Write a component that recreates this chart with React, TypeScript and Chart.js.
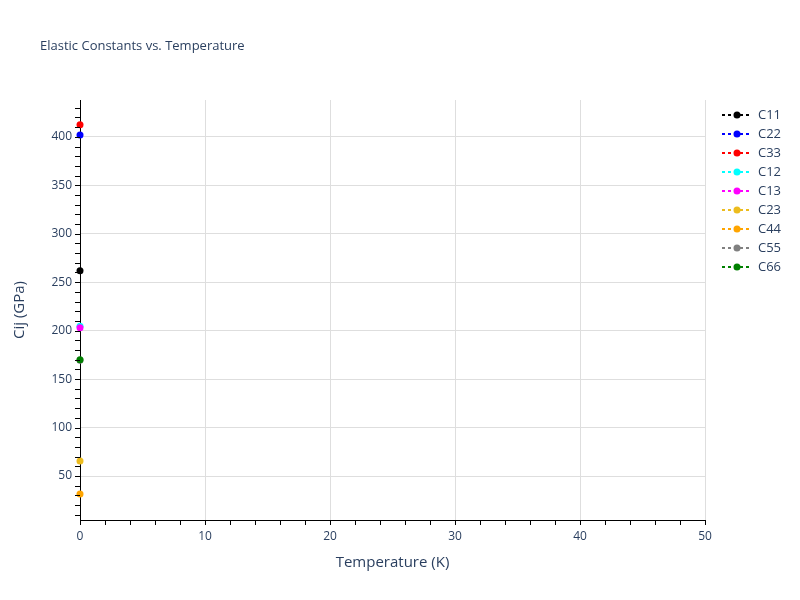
import { useEffect, useRef } from "react";
import Chart from "chart.js/auto";

const seriesNames = ["C11", "C22", "C33", "C12", "C13", "C23", "C44", "C55", "C66"];
const seriesColors = ["black", "blue", "red", "cyan", "magenta", "#ecbc1e", "orange", "gray", "green"];
const temperatures = [0];
const c11 = [261.7];
const c22 = [402.0];
const c33 = [412.4];
const c12 = [204.5];
const c13 = [203.0];
const c23 = [65.5];
const c44 = [31.4];
const c55 = [169.5];
const c66 = [170.0];
const seriesValues = [c11, c22, c33, c12, c13, c23, c44, c55, c66];
const xTicks = [0, 10, 20, 30, 40, 50];
const yTicks = [50, 100, 150, 200, 250, 300, 350, 400];

const FONT = "'Open Sans', verdana, arial, sans-serif";
const TEXT = "#2a3f5f";

const decorPlugin = {
  id: "decor",
  afterDraw(chart: any) {
    const { ctx, chartArea, scales } = chart;
    const xs = scales.x;
    const ys = scales.y;
    ctx.save();
    // tick marks, major + minor, outside
    ctx.strokeStyle = "#000";
    ctx.lineWidth = 1;
    for (let v = 0; v <= 50; v += 2) {
      const px = Math.round(xs.getPixelForValue(v)) + 0.5;
      ctx.beginPath();
      ctx.moveTo(px, chartArea.bottom);
      ctx.lineTo(px, chartArea.bottom + 5);
      ctx.stroke();
    }
    for (let v = 10; v <= 430; v += 10) {
      const py = Math.round(ys.getPixelForValue(v)) + 0.5;
      ctx.beginPath();
      ctx.moveTo(chartArea.left, py);
      ctx.lineTo(chartArea.left - 5, py);
      ctx.stroke();
    }
    // titles
    ctx.fillStyle = TEXT;
    ctx.font = `13px ${FONT}`;
    ctx.textAlign = "left";
    ctx.textBaseline = "middle";
    ctx.fillText("Elastic Constants vs. Temperature", 40, 46);
    ctx.font = `15px ${FONT}`;
    ctx.textAlign = "center";
    ctx.fillText("Temperature (K)", (chartArea.left + chartArea.right) / 2, 563);
    ctx.translate(20, (chartArea.top + chartArea.bottom) / 2);
    ctx.rotate(-Math.PI / 2);
    ctx.fillText("Cij (GPa)", 0, 0);
    ctx.restore();
    // legend
    ctx.save();
    seriesNames.forEach((name, i) => {
      const y = 115 + i * 19;
      ctx.strokeStyle = seriesColors[i];
      ctx.lineWidth = 2;
      ctx.setLineDash([3, 3]);
      ctx.beginPath();
      ctx.moveTo(722, y);
      ctx.lineTo(752, y);
      ctx.stroke();
      ctx.setLineDash([]);
      ctx.fillStyle = seriesColors[i];
      ctx.beginPath();
      ctx.arc(737, y, 3.5, 0, Math.PI * 2);
      ctx.fill();
      ctx.fillStyle = TEXT;
      ctx.font = `13px ${FONT}`;
      ctx.textAlign = "left";
      ctx.textBaseline = "middle";
      ctx.fillText(name, 758, y);
    });
    ctx.restore();
  },
};

export default function App() {
  const canvasRef = useRef<HTMLCanvasElement | null>(null);

  useEffect(() => {
    if (!canvasRef.current) return;
    const chart = new Chart(canvasRef.current, {
      type: "scatter",
      data: {
        datasets: seriesNames.map((name, i) => ({
          label: name,
          data: temperatures.map((t, j) => ({ x: t, y: seriesValues[i][j] })),
          borderColor: seriesColors[i],
          backgroundColor: seriesColors[i],
          pointRadius: 3.5,
          pointBorderWidth: 0,
          showLine: true,
          borderDash: [3, 3],
          borderWidth: 2,
          order: seriesNames.length - i,
          clip: false as any,
        })),
      },
      options: {
        responsive: false,
        animation: false,
        layout: { padding: { left: 0, top: 100, right: 95, bottom: 0 } },
        plugins: {
          legend: { display: false },
          title: { display: false },
          tooltip: { enabled: false },
        },
        scales: {
          x: {
            type: "linear",
            min: 0,
            max: 50,
            afterBuildTicks: (scale: any) => {
              scale.ticks = xTicks.map((v) => ({ value: v }));
            },
            afterFit: (scale: any) => {
              scale.height = 80;
            },
            grid: { color: "#dedede", lineWidth: 1, drawTicks: false },
            border: { color: "#000", width: 1 },
            ticks: { color: TEXT, padding: 9, font: { size: 12, family: FONT }, maxRotation: 0 },
          },
          y: {
            type: "linear",
            min: 4.6,
            max: 438,
            afterBuildTicks: (scale: any) => {
              scale.ticks = yTicks.map((v) => ({ value: v }));
            },
            afterFit: (scale: any) => {
              scale.width = 80;
            },
            grid: { color: "#dedede", lineWidth: 1, drawTicks: false },
            border: { color: "#000", width: 1 },
            ticks: { color: TEXT, padding: 8, font: { size: 12, family: FONT } },
          },
        },
      },
      plugins: [decorPlugin],
    });
    return () => chart.destroy();
  }, []);

  return (
    <div style={{ position: "fixed", left: 0, top: 0, width: 800, height: 600, background: "#fff" }}>
      <canvas ref={canvasRef} width={800} height={600} style={{ width: 800, height: 600 }}></canvas>
    </div>
  );
}
